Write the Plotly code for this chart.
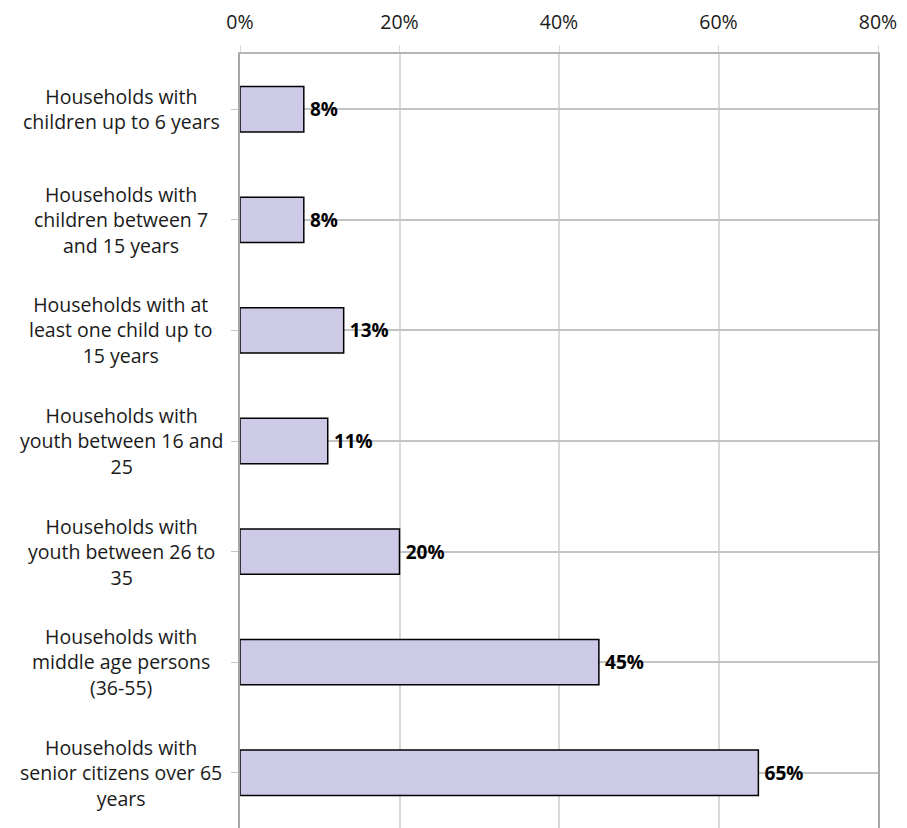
import plotly.graph_objects as go

categories = [
    "Households with<br>children up to 6 years",
    "Households with<br>children between 7<br>and 15 years",
    "Households with at<br>least one child up to<br>15 years",
    "Households with<br>youth between 16 and<br>25",
    "Households with<br>youth between 26 to<br>35",
    "Households with<br>middle age persons<br>(36-55)",
    "Households with<br>senior citizens over 65<br>years",
]
shares = [8, 8, 13, 11, 20, 45, 65]
x_ticks = [0, 20, 40, 60, 80]
x_tick_labels = ["0%", "20%", "40%", "60%", "80%"]

font = "Open Sans, Noto Sans, sans-serif"

fig = go.Figure()
fig.add_trace(
    go.Bar(
        x=shares,
        y=list(range(len(categories))),
        orientation="h",
        width=0.41,
        marker=dict(color="#cccae6", line=dict(color="black", width=1.5)),
        text=[f"\u2009<b>{v}%</b>" for v in shares],
        textposition="outside",
        textfont=dict(size=19, color="black", family=font),
        cliponaxis=False,
        showlegend=False,
    )
)

# centred multi-line category labels
for i, c in enumerate(categories):
    fig.add_annotation(
        x=-0.1865, y=i, xref="paper", yref="y",
        text=c, showarrow=False, align="center",
        xanchor="center", yanchor="middle",
        font=dict(size=19.5, color="#1a1a1a", family=font),
    )

fig.update_xaxes(
    side="top", range=[0, 80], tickvals=x_ticks, ticktext=x_tick_labels,
    showgrid=True, gridcolor="#d9d9d9", gridwidth=1.5,
    ticks="outside", ticklen=7, tickcolor="#d9d9d9",
    ticklabelstandoff=8,
    showline=True, linecolor="#b5b5b5", linewidth=2,
    tickfont=dict(size=19.5, color="#1a1a1a", family=font),
    zeroline=False,
)
fig.update_yaxes(
    range=[6.5, -0.5], tickvals=list(range(len(categories))),
    tickson="boundaries", showticklabels=False,
    showgrid=True, gridcolor="#c4c4c4", gridwidth=1.5,
    ticks="outside", ticklen=7, tickcolor="#c4c4c4",
    showline=True, mirror=True, linecolor="#a6a6a6", linewidth=2,
)
fig.update_layout(
    width=899, height=820,
    margin=dict(l=232, r=29, t=44, b=0),
    plot_bgcolor="white", paper_bgcolor="white",
    font=dict(family=font),
)
fig.write_html("out.html")
